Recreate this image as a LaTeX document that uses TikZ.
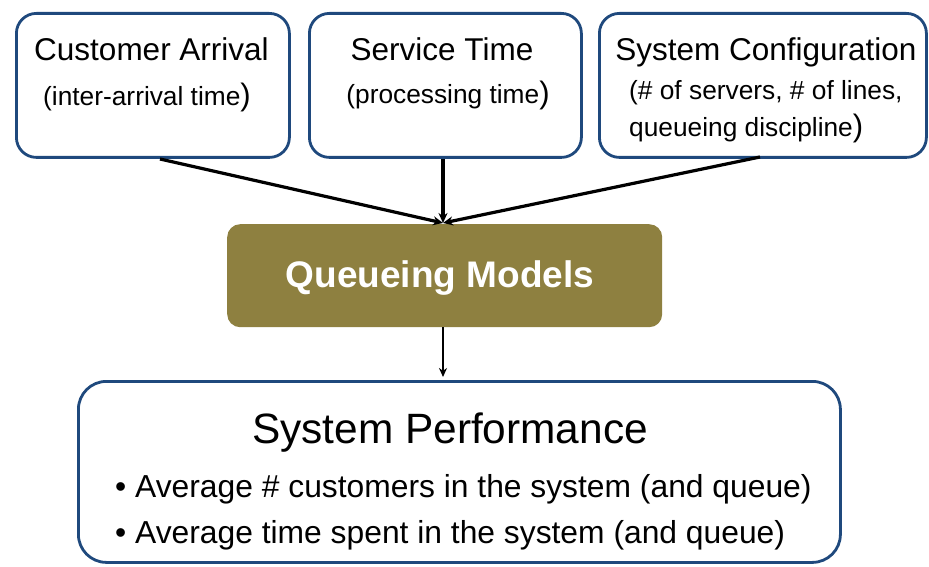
\documentclass[tikz,border=0pt]{standalone}
\usepackage{fontspec}
\setmainfont{Liberation Sans}
\usetikzlibrary{arrows.meta}
\definecolor{boxblue}{RGB}{31,73,125}
\definecolor{olivefill}{RGB}{142,128,64}
\newcommand\myclose{{\fontsize{31}{37}\selectfont)}}
\begin{document}
\begin{tikzpicture}[x=1pt,y=-1pt,
  topbox/.style={draw=boxblue, line width=2.8pt, rounded corners=20pt, fill=white, anchor=north west, inner sep=0pt},
  botbox/.style={draw=boxblue, line width=2.8pt, rounded corners=28pt, fill=white, anchor=north west, inner sep=0pt},
  midbox/.style={fill=olivefill, rounded corners=13pt, anchor=north west, inner sep=0pt},
  ttl/.style={font=\fontsize{31.5}{37}\selectfont, inner sep=0pt, anchor=base},
  sub/.style={font=\fontsize{26.3}{31}\selectfont, inner sep=0pt},
  perf/.style={font=\fontsize{42.4}{50}\selectfont, inner sep=0pt, anchor=base},
  bul/.style={font=\fontsize{31.8}{38}\selectfont, inner sep=0pt, anchor=base west},
  qm/.style={font=\fontsize{37}{44}\selectfont\bfseries, text=white, inner sep=0pt, anchor=base},
  conn/.style={line width=3.2pt, -{Stealth[length=10pt,width=9pt]}},
  conn2/.style={line width=2.4pt, -{Stealth[length=9pt,width=8pt]}}
]
\useasboundingbox (0,0) rectangle (929,567);

% boxes
\node[topbox, minimum width=273pt, minimum height=144pt] (b1) at (15,12) {};
\node[topbox, minimum width=272pt, minimum height=144pt] (b2) at (308,12) {};
\node[topbox, minimum width=327pt, minimum height=144pt] (b3) at (598,12) {};
\node[midbox, minimum width=435pt, minimum height=103pt] (m) at (227,224) {};
\node[botbox, minimum width=762pt, minimum height=181pt] (bot) at (77,380) {};

% texts
\node[ttl] (t1) at (151.5,61) {Customer Arrival};
\node[sub, anchor=base] (s1) at (147,106) {(inter-arrival time\myclose};
\node[ttl] (t2) at (442,61) {Service Time};
\node[sub, anchor=base] (s2) at (448,104) {(processing time\myclose};
\node[ttl] (t3) at (766,61) {System Configuration};
\node[sub, anchor=base west] (s3a) at (629,100) {(\# of servers, \# of lines,};
\node[sub, anchor=base west] (s3b) at (629,137) {queueing discipline\myclose};
\node[qm] (tq) at (440,287) {Queueing Models};
\node[perf] (tp) at (450,443) {System Performance};
\node[bul] (l1) at (115,497) {• Average \# customers in the system (and queue)};
\node[bul] (l2) at (115,543) {• Average time spent in the system (and queue)};

% connectors
\coordinate (a1) at (160,159);
\coordinate (a3) at (760,157);
\coordinate (tgt) at (443,223);
\coordinate (pb) at (443,377);
\draw[conn] (a1) -- (tgt);
\draw[conn] (b2.south -| tgt) -- (tgt);
\draw[conn] (a3) -- (tgt);
\draw[conn2] (m.south -| pb) -- (pb);
\end{tikzpicture}
\end{document}
